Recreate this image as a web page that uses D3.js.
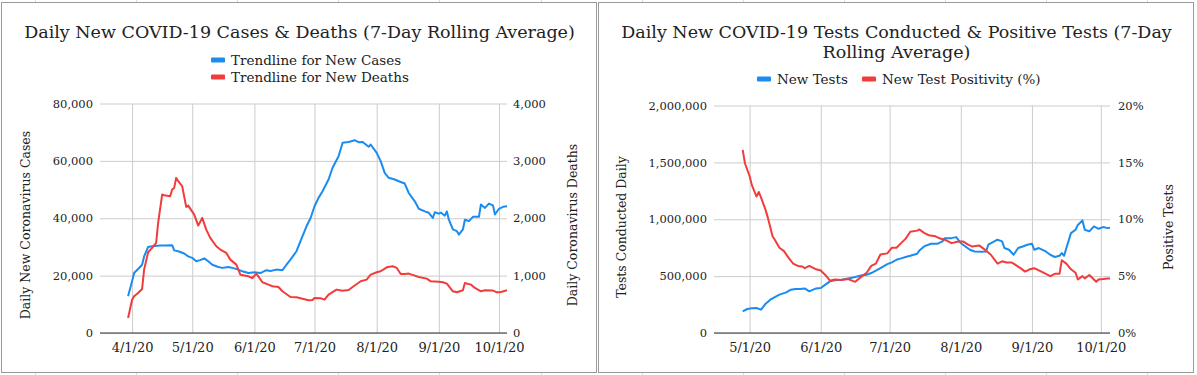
<!DOCTYPE html>
<html>
<head>
<meta charset="utf-8">
<script src="https://cdn.jsdelivr.net/npm/d3@7"></script>
<style>
  body { margin: 0; background: #fff; }
  svg text { font-family: "DejaVu Serif", "Liberation Serif", serif; fill: #222; }
</style>
</head>
<body>
<div id="chart"></div>
<script>

// ---- data (7-day rolling averages, 2020) ----
const newCases = [
  ["03-30", 12800], ["04-01", 18000], ["04-02", 20900], ["04-04", 22300], ["04-06", 23800],
  ["04-07", 26700], ["04-09", 30000], ["04-11", 30200], ["04-15", 30500], ["04-17", 30500],
  ["04-21", 30600], ["04-22", 28800], ["04-24", 28500], ["04-27", 27700], ["04-29", 26700],
  ["05-01", 26200], ["05-03", 25000], ["05-05", 25400], ["05-07", 26000], ["05-09", 25000],
  ["05-11", 23800], ["05-14", 23000], ["05-16", 22700], ["05-19", 23000], ["05-21", 22700],
  ["05-24", 22100], ["05-26", 21500], ["05-29", 20900], ["06-01", 21200], ["06-04", 20900],
  ["06-07", 21900], ["06-09", 21600], ["06-12", 22100], ["06-15", 21900], ["06-17", 23800],
  ["06-19", 25600], ["06-22", 28500], ["06-24", 32000], ["06-27", 37200], ["06-29", 40000],
  ["07-01", 44200], ["07-03", 47100], ["07-05", 49400], ["07-08", 53500], ["07-10", 57600],
  ["07-13", 61600], ["07-15", 66300], ["07-18", 66600], ["07-21", 67200], ["07-23", 66500],
  ["07-25", 66600], ["07-28", 64900], ["07-29", 65700], ["08-01", 62800], ["08-03", 59900],
  ["08-05", 55800], ["08-07", 54100], ["08-10", 53500], ["08-12", 52900], ["08-15", 52100],
  ["08-17", 48800], ["08-20", 45900], ["08-22", 43300], ["08-25", 42400], ["08-27", 41900],
  ["08-29", 40100], ["08-30", 42100], ["09-01", 41600], ["09-02", 42000], ["09-04", 40900],
  ["09-05", 42400], ["09-06", 39500], ["09-08", 36100], ["09-10", 35500], ["09-11", 34300],
  ["09-13", 36100], ["09-14", 39500], ["09-16", 39000], ["09-18", 40500], ["09-21", 40500],
  ["09-22", 44800], ["09-24", 43600], ["09-26", 45100], ["09-28", 44500], ["09-29", 41300],
  ["10-01", 43300], ["10-03", 44000], ["10-05", 44200]
];

const newDeaths = [
  ["03-30", 262], ["04-01", 581], ["04-02", 640], ["04-04", 698], ["04-06", 767],
  ["04-07", 1105], ["04-09", 1407], ["04-11", 1483], ["04-13", 1570], ["04-14", 1919],
  ["04-16", 2413], ["04-17", 2400], ["04-20", 2384], ["04-21", 2500], ["04-22", 2529],
  ["04-23", 2704], ["04-24", 2645], ["04-26", 2558], ["04-28", 2198], ["04-29", 2221],
  ["05-02", 2064], ["05-04", 1872], ["05-06", 2006], ["05-08", 1802], ["05-10", 1657],
  ["05-13", 1512], ["05-15", 1454], ["05-18", 1395], ["05-20", 1279], ["05-23", 1192],
  ["05-25", 1017], ["05-29", 988], ["05-31", 959], ["06-02", 1035], ["06-05", 884],
  ["06-08", 843], ["06-10", 814], ["06-13", 802], ["06-15", 727], ["06-19", 628],
  ["06-22", 622], ["06-24", 605], ["06-28", 570], ["06-30", 575], ["07-01", 610],
  ["07-04", 605], ["07-06", 581], ["07-08", 669], ["07-12", 756], ["07-15", 738],
  ["07-18", 750], ["07-20", 802], ["07-24", 901], ["07-27", 930], ["07-29", 1017],
  ["08-01", 1058], ["08-03", 1076], ["08-06", 1145], ["08-09", 1163], ["08-11", 1134],
  ["08-13", 1029], ["08-15", 1030], ["08-17", 1035], ["08-20", 1000], ["08-22", 977],
  ["08-26", 948], ["08-28", 901], ["09-01", 895], ["09-03", 884], ["09-05", 860],
  ["09-08", 727], ["09-10", 709], ["09-13", 744], ["09-14", 872], ["09-17", 843],
  ["09-19", 785], ["09-22", 727], ["09-24", 744], ["09-28", 740], ["09-30", 709],
  ["10-02", 715], ["10-05", 744]
];

const newTests = [
  ["04-28", 190000], ["04-30", 211000], ["05-02", 217000], ["05-04", 220000], ["05-06", 205000],
  ["05-08", 258000], ["05-10", 293000], ["05-12", 316000], ["05-14", 337000], ["05-17", 357000],
  ["05-19", 381000], ["05-21", 387000], ["05-23", 387000], ["05-25", 392000], ["05-27", 366000],
  ["05-30", 392000], ["06-01", 395000], ["06-03", 425000], ["06-05", 454000], ["06-07", 463000],
  ["06-10", 468000], ["06-13", 480000], ["06-16", 492000], ["06-19", 507000], ["06-21", 512000],
  ["06-23", 527000], ["06-25", 548000], ["06-27", 571000], ["06-30", 606000], ["07-02", 621000],
  ["07-04", 644000], ["07-06", 656000], ["07-08", 668000], ["07-10", 679000], ["07-13", 697000],
  ["07-14", 726000], ["07-16", 761000], ["07-19", 785000], ["07-22", 785000], ["07-24", 805000],
  ["07-25", 834000], ["07-28", 834000], ["07-30", 843000], ["08-01", 791000], ["08-03", 761000],
  ["08-05", 732000], ["08-07", 717000], ["08-10", 714000], ["08-12", 717000], ["08-13", 776000],
  ["08-15", 799000], ["08-17", 820000], ["08-19", 805000], ["08-20", 747000], ["08-22", 732000],
  ["08-24", 688000], ["08-26", 747000], ["08-28", 761000], ["08-30", 776000], ["09-01", 785000],
  ["09-02", 732000], ["09-04", 747000], ["09-07", 717000], ["09-09", 688000], ["09-11", 668000],
  ["09-13", 679000], ["09-14", 703000], ["09-15", 679000], ["09-16", 747000], ["09-18", 878000],
  ["09-20", 908000], ["09-21", 950000], ["09-23", 990000], ["09-24", 908000], ["09-26", 893000],
  ["09-28", 937000], ["09-30", 916000], ["10-02", 931000], ["10-04", 922000], ["10-05", 925000]
];

const testPositivity = [
  ["04-28", 16.1], ["04-29", 14.9], ["05-01", 13.8], ["05-02", 13.0], ["05-04", 12.0],
  ["05-05", 12.4], ["05-06", 11.9], ["05-08", 10.8], ["05-09", 10.1], ["05-11", 8.5],
  ["05-12", 8.2], ["05-14", 7.5], ["05-16", 7.2], ["05-18", 6.6], ["05-20", 6.1],
  ["05-22", 5.9], ["05-24", 5.85], ["05-25", 5.7], ["05-27", 5.9], ["05-30", 5.6],
  ["06-01", 5.5], ["06-03", 5.1], ["06-05", 4.6], ["06-07", 4.7], ["06-10", 4.65],
  ["06-13", 4.74], ["06-16", 4.5], ["06-19", 5.0], ["06-21", 5.3], ["06-23", 5.9],
  ["06-25", 6.1], ["06-27", 6.9], ["06-30", 7.0], ["07-02", 7.5], ["07-04", 7.5],
  ["07-06", 7.9], ["07-08", 8.3], ["07-10", 8.9], ["07-13", 9.0], ["07-14", 9.1],
  ["07-16", 8.8], ["07-18", 8.6], ["07-21", 8.5], ["07-23", 8.3], ["07-25", 8.2],
  ["07-28", 7.9], ["07-31", 8.05], ["08-02", 8.05], ["08-04", 7.8], ["08-06", 7.6],
  ["08-09", 7.7], ["08-11", 7.4], ["08-14", 6.9], ["08-17", 6.1], ["08-19", 6.3],
  ["08-21", 6.2], ["08-23", 6.2], ["08-24", 6.1], ["08-27", 5.7], ["08-29", 5.4],
  ["08-31", 5.6], ["09-02", 5.7], ["09-04", 5.5], ["09-06", 5.3], ["09-09", 5.0],
  ["09-11", 5.2], ["09-13", 5.2], ["09-14", 6.4], ["09-16", 6.1], ["09-18", 5.6],
  ["09-20", 5.3], ["09-21", 4.7], ["09-23", 5.0], ["09-24", 4.8], ["09-26", 5.1],
  ["09-29", 4.5], ["09-30", 4.7], ["10-02", 4.74], ["10-04", 4.8], ["10-05", 4.8]
];

const dateTicksLeft = ["04-01", "05-01", "06-01", "07-01", "08-01", "09-01", "10-01"];
const dateTicksRight = ["05-01", "06-01", "07-01", "08-01", "09-01", "10-01"];
const casesTicks = [0, 20000, 40000, 60000, 80000];
const deathsTicks = [0, 1000, 2000, 3000, 4000];
const testsTicks = [0, 500000, 1000000, 1500000, 2000000];
const positivityTicks = [0, 5, 10, 15, 20];

const BLUE = "#1a8cf0";
const RED = "#f23c3c";

const parseDay = d3.timeParse("%Y-%m-%d");
const day = s => parseDay("2020-" + s);


class DualAxisChart {

	constructor(svg, cfg) {
		this._svg = svg;
		this._cfg = cfg;
		this.initVis();
	}

	initVis() {
		let vis = this;
		let c = vis._cfg;

		vis.g = vis._svg.append("g");

		// panel frame
		vis.g.append("rect")
			.attr("x", c.frame[0] + 0.5).attr("y", 2.5)
			.attr("width", c.frame[1] - c.frame[0]).attr("height", 370)
			.attr("fill", "#fff").attr("stroke", "#9a9a9a");

		// scales
		vis.x = d3.scaleTime()
			.domain(c.xDomain)
			.range([c.plot.left, c.plot.right]);

		vis.yL = d3.scaleLinear()
			.domain([c.leftTicks[0], c.leftTicks[c.leftTicks.length - 1]])
			.range([c.plot.bottom, c.plot.top]);

		vis.yR = d3.scaleLinear()
			.domain([c.rightTicks[0], c.rightTicks[c.rightTicks.length - 1]])
			.range([c.plot.bottom, c.plot.top]);

		// horizontal gridlines + left axis labels
		vis.leftAxis = d3.axisLeft(vis.yL)
			.tickValues(c.leftTicks)
			.tickFormat(c.leftFormat)
			.tickSize(-(c.plot.right - c.plot.left))
			.tickPadding(c.plot.left - c.leftLabelX);

		vis.g.append("g")
			.attr("class", "y-axis axis")
			.attr("transform", "translate(" + c.plot.left + ",0)")
			.call(vis.leftAxis)
			.call(g => g.select(".domain").remove())
			.call(g => g.selectAll(".tick line").attr("stroke", "#cccccc"))
			.call(g => g.selectAll(".tick text").attr("font-size", 11.5).attr("fill", "#222"));

		// vertical gridlines + date labels
		vis.xAxis = d3.axisBottom(vis.x)
			.tickValues(c.xTicks.map(day))
			.tickFormat(d3.timeFormat("%-m/%-d/%y"))
			.tickSize(-(c.plot.bottom - c.plot.top))
			.tickPadding(10);

		vis.g.append("g")
			.attr("class", "x-axis axis")
			.attr("transform", "translate(0," + c.plot.bottom + ")")
			.call(vis.xAxis)
			.call(g => g.select(".domain").remove())
			.call(g => g.selectAll(".tick line").attr("stroke", "#cccccc"))
			.call(g => g.selectAll(".tick text").attr("font-size", 13).attr("fill", "#222"));

		// right axis labels
		vis.rightAxis = d3.axisRight(vis.yR)
			.tickValues(c.rightTicks)
			.tickFormat(c.rightFormat)
			.tickSize(0)
			.tickPadding(c.rightLabelX - c.plot.right);

		vis.g.append("g")
			.attr("class", "y-axis-right axis")
			.attr("transform", "translate(" + c.plot.right + ",0)")
			.call(vis.rightAxis)
			.call(g => g.select(".domain").remove())
			.call(g => g.selectAll(".tick text").attr("font-size", 11.5).attr("fill", "#222"));

		// baseline
		vis.g.append("line")
			.attr("x1", c.plot.left).attr("x2", c.plot.right)
			.attr("y1", vis.yL(0)).attr("y2", vis.yL(0))
			.attr("stroke", "#333").attr("stroke-width", 1.2);

		// lines
		vis.lineL = d3.line()
			.x(d => vis.x(day(d[0])))
			.y(d => vis.yL(d[1]));
		vis.lineR = d3.line()
			.x(d => vis.x(day(d[0])))
			.y(d => vis.yR(d[1]));

		vis.g.append("path")
			.datum(c.leftSeries)
			.attr("fill", "none").attr("stroke", BLUE).attr("stroke-width", 2)
			.attr("stroke-linejoin", "round")
			.attr("d", vis.lineL);

		vis.g.append("path")
			.datum(c.rightSeries)
			.attr("fill", "none").attr("stroke", RED).attr("stroke-width", 2)
			.attr("stroke-linejoin", "round")
			.attr("d", vis.lineR);

		// title
		c.title.forEach((t, i) => {
			vis.g.append("text")
				.attr("x", c.titleX).attr("y", 38 + i * 19.5)
				.attr("text-anchor", "middle")
				.attr("font-size", c.titleSize)
				.attr("fill", "#111")
				.text(t);
		});

		// legend
		c.legend.forEach(l => {
			vis.g.append("rect")
				.attr("x", l.x).attr("y", l.y - 2.5)
				.attr("width", 14).attr("height", 5)
				.attr("rx", 1)
				.attr("fill", l.color);
			vis.g.append("text")
				.attr("x", l.x + 20).attr("y", l.y)
				.attr("dy", "0.35em")
				.attr("font-size", 13.5)
				.text(l.label);
		});

		// axis titles
		vis.g.append("text")
			.attr("transform", "translate(" + c.leftTitleX + "," + c.axisTitleY + ") rotate(-90)")
			.attr("text-anchor", "middle").attr("dy", "0.35em")
			.attr("font-size", 12.5)
			.text(c.leftTitle);

		vis.g.append("text")
			.attr("transform", "translate(" + c.rightTitleX + "," + c.axisTitleY + ") rotate(-90)")
			.attr("text-anchor", "middle").attr("dy", "0.35em")
			.attr("font-size", 12.5)
			.text(c.rightTitle);
	}
}


const svg = d3.select("#chart").append("svg")
	.attr("width", 1197)
	.attr("height", 375);

svg.append("rect").attr("width", 1197).attr("height", 375).attr("fill", "#fff");

// faint spreadsheet cell lines peeking around the charts
d3.range(35, 1197, 101.1).forEach(x => {
	svg.append("line")
		.attr("x1", Math.round(x) + 0.5).attr("x2", Math.round(x) + 0.5)
		.attr("y1", 0).attr("y2", 375)
		.attr("stroke", "#dadada");
});

new DualAxisChart(svg, {
	frame: [1, 596],
	plot: {left: 100, right: 507, top: 103.5, bottom: 333},
	xDomain: [day("03-16"), day("10-05")],
	xTicks: dateTicksLeft,
	leftTicks: casesTicks,
	rightTicks: deathsTicks,
	leftFormat: d3.format(","),
	rightFormat: d3.format(","),
	leftLabelX: 93,
	rightLabelX: 513,
	leftSeries: newCases,
	rightSeries: newDeaths,
	title: ["Daily New COVID-19 Cases & Deaths (7-Day Rolling Average)"],
	titleX: 299.5,
	titleSize: 17.5,
	legend: [
		{x: 211, y: 60, color: BLUE, label: "Trendline for New Cases"},
		{x: 211, y: 77, color: RED, label: "Trendline for New Deaths"}
	],
	leftTitle: "Daily New Coronavirus Cases",
	rightTitle: "Daily Coronavirus Deaths",
	leftTitleX: 26,
	rightTitleX: 573,
	axisTitleY: 225
});

new DualAxisChart(svg, {
	frame: [598, 1193],
	plot: {left: 714, right: 1110, top: 105.5, bottom: 333},
	xDomain: [new Date(2020, 3, 15, 12), day("10-05")],
	xTicks: dateTicksRight,
	leftTicks: testsTicks,
	rightTicks: positivityTicks,
	leftFormat: d3.format(","),
	rightFormat: d => d + "%",
	leftLabelX: 707,
	rightLabelX: 1118,
	leftSeries: newTests,
	rightSeries: testPositivity,
	title: ["Daily New COVID-19 Tests Conducted & Positive Tests (7-Day", "Rolling Average)"],
	titleX: 896.5,
	titleSize: 17.5,
	legend: [
		{x: 757, y: 79, color: BLUE, label: "New Tests"},
		{x: 862, y: 79, color: RED, label: "New Test Positivity (%)"}
	],
	leftTitle: "Tests Conducted Daily",
	rightTitle: "Positive Tests",
	leftTitleX: 622,
	rightTitleX: 1169,
	axisTitleY: 227
});

</script>
</body>
</html>
